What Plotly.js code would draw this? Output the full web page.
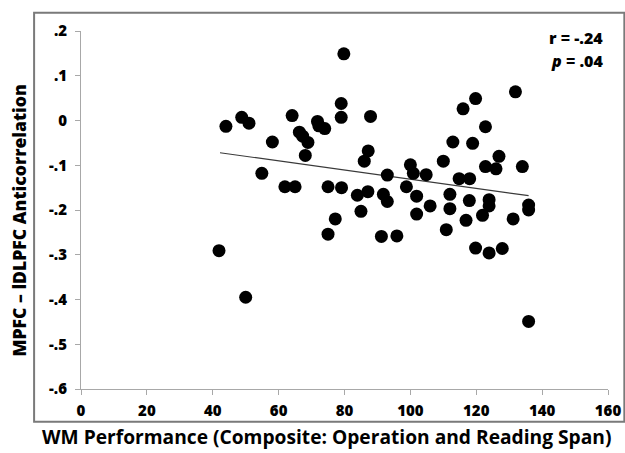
<!DOCTYPE html>
<html>
<head>
<meta charset="utf-8">
<script src="https://cdn.plot.ly/plotly-3.0.1.min.js"></script>
<style>html,body{margin:0;padding:0;background:#fff;}#chart{width:625px;height:453px;}</style>
</head>
<body>
<div id="chart"></div>
<script>
const wmScore = [44.0,48.8,51.0,41.9,50.0,58.1,54.9,61.9,65.0,64.1,66.3,67.3,68.9,68.1,71.8,72.2,74.0,75.0,75.0,77.2,79.0,79.0,79.8,79.1,87.9,87.2,86.0,87.1,83.9,85.0,93.0,91.8,93.0,91.2,95.9,98.8,100.0,100.9,104.8,101.9,101.9,106.0,110.0,110.9,112.0,112.0,112.9,114.8,116.0,118.0,117.9,116.9,118.9,119.8,119.8,122.8,122.8,126.0,126.9,123.9,123.9,121.9,123.9,127.9,131.2,131.9,134.0,135.9,135.9,135.9];
const anticorr = [-0.013,0.007,-0.006,-0.291,-0.395,-0.048,-0.118,-0.148,-0.148,0.011,-0.026,-0.035,-0.049,-0.078,-0.002,-0.012,-0.018,-0.148,-0.254,-0.220,0.038,0.007,0.149,-0.150,0.009,-0.068,-0.091,-0.159,-0.167,-0.203,-0.122,-0.165,-0.181,-0.259,-0.258,-0.148,-0.099,-0.118,-0.121,-0.169,-0.209,-0.191,-0.091,-0.244,-0.165,-0.197,-0.048,-0.130,0.026,-0.130,-0.179,-0.223,-0.051,0.049,-0.285,-0.014,-0.103,-0.108,-0.080,-0.177,-0.191,-0.212,-0.296,-0.286,-0.220,0.064,-0.103,-0.189,-0.200,-0.449];
const trendX = [42.2, 135.9];
const trendY = [-0.072, -0.168];
const xTickVals = [0,20,40,60,80,100,120,140,160];
const xTickText = ["0","20","40","60","80","100","120","140","160"];
const yTickVals = [0.2,0.1,0,-0.1,-0.2,-0.3,-0.4,-0.5,-0.6];
const yTickText = [".2",".1","0","-.1","-.2","-.3","-.4","-.5","-.6"];
const statLines = ["r = -.24", "<i>p</i> = .04"];
const xTitle = "WM Performance (Composite: Operation and Reading Span)";
const yTitle = "MPFC – lDLPFC Anticorrelation";

const FONT = "'Open Sans', Lato, sans-serif";
const axisColor = "#a8a8a8";

const traces = [
  {x: trendX, y: trendY, mode: "lines", type: "scatter",
   line: {color: "#3a3a3a", width: 1.2}, hoverinfo: "skip", showlegend: false},
  {x: wmScore, y: anticorr, mode: "markers", type: "scatter",
   marker: {color: "#000", size: 13, line: {width: 0}}, showlegend: false}
];

const layout = {
  width: 625, height: 453,
  margin: {l: 81, r: 17, t: 31, b: 64},
  paper_bgcolor: "#fff", plot_bgcolor: "#fff",
  font: {family: FONT, color: "#000"},
  showlegend: false,
  xaxis: {range: [0, 160], tickvals: xTickVals, ticktext: xTickText,
    showgrid: false, zeroline: false, showline: true, linecolor: axisColor, linewidth: 1,
    ticks: "outside", ticklen: 5, tickcolor: axisColor, tickwidth: 1,
    tickfont: {family: FONT, size: 15, color: "#000", weight: 800}, ticklabelstandoff: 3, fixedrange: true},
  yaxis: {range: [-0.6, 0.2], tickvals: yTickVals, ticktext: yTickText,
    showgrid: false, zeroline: false, showline: true, linecolor: axisColor, linewidth: 1,
    ticks: "outside", ticklen: 5, tickcolor: axisColor, tickwidth: 1,
    tickfont: {family: FONT, size: 15, color: "#000", weight: 800}, ticklabelstandoff: 5, fixedrange: true},
  shapes: [
    {type: "rect", xref: "paper", yref: "paper", x0: -0.089, x1: 1.031, y0: -0.0913, y1: 1.051,
     line: {color: "#7a7a7a", width: 2}, fillcolor: "rgba(0,0,0,0)", layer: "below"}
  ],
  annotations: [
    {text: statLines[0], xref: "paper", yref: "paper", x: 0.9943, y: 0.981, xanchor: "right", yanchor: "middle",
     showarrow: false, font: {family: FONT, size: 16, color: "#000", weight: 800}},
    {text: statLines[1], xref: "paper", yref: "paper", x: 0.9943, y: 0.916, xanchor: "right", yanchor: "middle",
     showarrow: false, font: {family: FONT, size: 16, color: "#000", weight: 800}},
    {text: xTitle, xref: "paper", yref: "paper", x: 0.465, y: -0.134, xanchor: "center", yanchor: "middle",
     showarrow: false, font: {family: FONT, size: 19.2, color: "#000", weight: 700}},
    {text: yTitle, xref: "paper", yref: "paper", x: -0.118, y: 0.47, xanchor: "center", yanchor: "middle",
     textangle: -90, showarrow: false, font: {family: FONT, size: 17.6, color: "#000", weight: 800}}
  ]
};

Plotly.newPlot("chart", traces, layout, {displayModeBar: false, staticPlot: true});
</script>
</body>
</html>
